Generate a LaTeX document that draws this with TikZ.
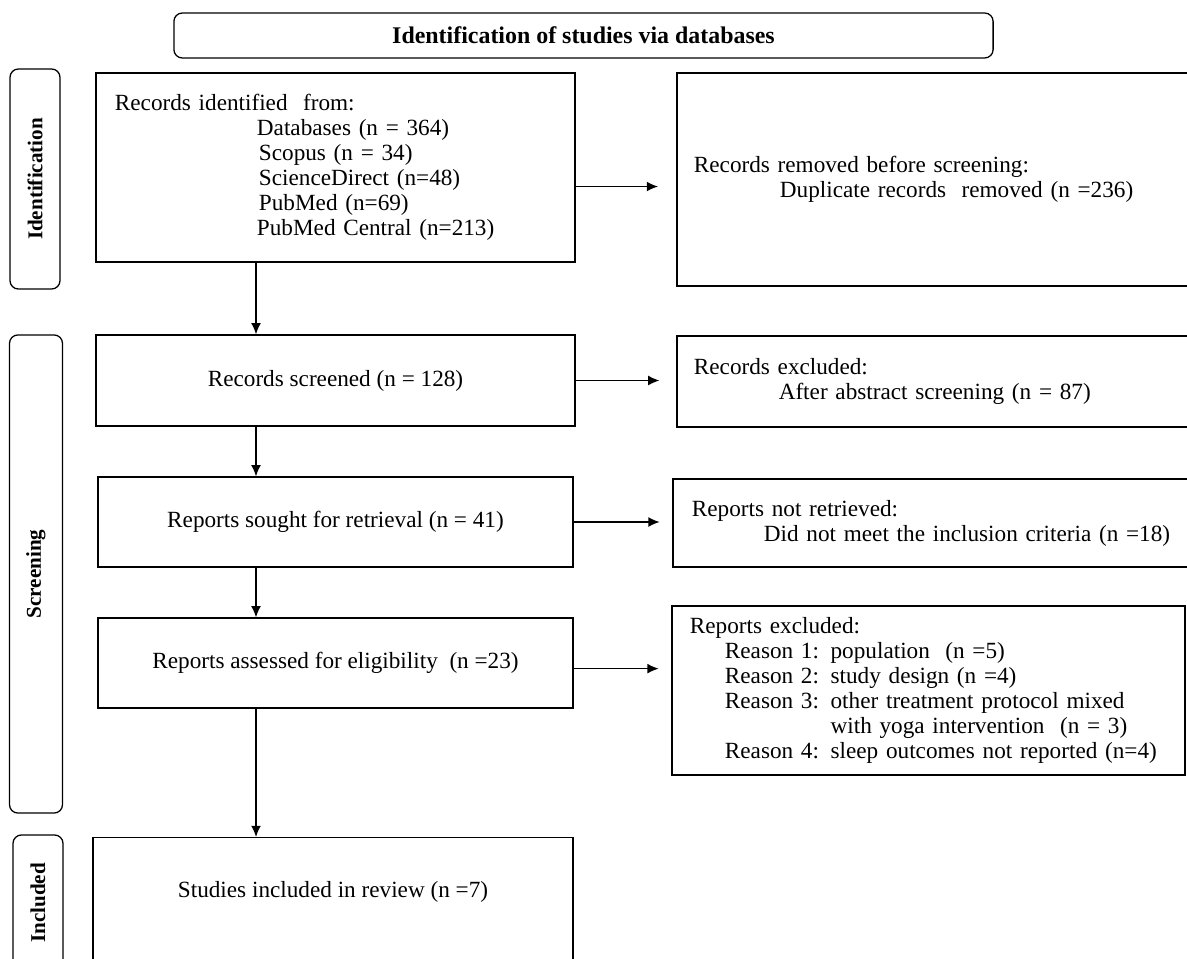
\documentclass[tikz,border=0pt]{standalone}
\usepackage{fontspec}
\setmainfont{Liberation Serif}
\usetikzlibrary{arrows.meta}
\begin{document}
\begin{tikzpicture}[x=0.025cm, y=-0.025cm, flux/.style={->, >={Latex[length=8pt,width=7pt]}, line width=0.9pt}]
        \tikzset{etape/.style={rectangle, draw=black, line width=0.9pt, inner ysep=0pt, font=\fontsize{16.5}{17.8}\selectfont}};
        \tikzset{phase/.style={rectangle, rounded corners=6pt, draw=black, line width=0.9pt, rotate=90, inner sep=0pt, font=\fontsize{15}{18}\selectfont\bfseries}};
        \tikzset{titre/.style={rectangle, rounded corners=6pt, draw=black, line width=0.9pt, inner sep=0pt, font=\fontsize{17}{20}\selectfont\bfseries}};
        \clip (0,0) rectangle (1187,958);

        % en-tete et phases
        \node[titre, minimum width=20.475cm, minimum height=1.125cm] (titre) at (583.5, 35.5) {Identification of studies via databases};
        \node[phase, minimum width=5.5cm, minimum height=1.25cm] (pIdent) at (35, 179) {Identification};
        \node[phase, minimum width=11.95cm, minimum height=1.325cm] (pScreen) at (36, 574) {Screening};
        \node[phase, minimum width=3.4cm, minimum height=1.25cm] (pIncl) at (38, 903) {Included};

        % colonne de gauche
        \node[etape, text width=11.025cm, inner xsep=0.475cm, minimum height=4.725cm, align=left] (ident) at (335.5, 167.5) {Records identified~ from:\\
            \hspace*{3.55cm}Databases (n = 364)\\
            \hspace*{3.6cm}Scopus (n = 34)\\
            \hspace*{3.6cm}ScienceDirect (n=48)\\
            \hspace*{3.6cm}PubMed (n=69)\\
            \hspace*{3.55cm}PubMed Central (n=213)};
        \node[etape, minimum width=11.975cm, minimum height=2.275cm] (screened) at (335.5, 380.5) {Records screened (n = 128)};
        \node[etape, minimum width=11.875cm, minimum height=2.25cm] (sought) at (335.5, 522) {Reports sought for retrieval (n = 41)};
        \node[etape, minimum width=11.875cm, minimum height=2.25cm] (assessed) at (335.5, 663) {Reports assessed for eligibility~ (n =23)};
        \node[etape, anchor=north, minimum width=12cm, text height=1.5cm, text depth=3cm] (included) at (333, 837) {Studies included in review (n =7)};

        % colonne de droite
        \node[etape, text width=12.225cm, inner xsep=0.425cm, minimum height=5.325cm, align=left] (removed) at (938.5, 179.5) {Records removed before screening:\\
            \hspace*{2.15cm}Duplicate records~ removed (n =236)};
        \node[etape, text width=12.225cm, inner xsep=0.425cm, minimum height=2.275cm, align=left] (recexcl) at (938.5, 381.5) {Records excluded:\\
            \hspace*{2.12cm}After abstract screening (n = 87)};
        \node[etape, text width=12.225cm, inner xsep=0.475cm, minimum height=2.2cm, align=left] (notretr) at (936.5, 523) {Reports not retrieved:\\
            \hspace*{1.8cm}Did not meet the inclusion criteria (n =18)};
        \node[etape, text width=11.925cm, inner xsep=0.45cm, minimum height=4.225cm, align=left] (repexcl) at (928.5, 690.5) {Reports excluded:\\
            \hspace*{0.875cm}Reason 1: population~ (n =5)\\
            \hspace*{0.875cm}Reason 2: study design (n =4)\\
            \hspace*{0.875cm}Reason 3: other treatment protocol mixed\\
            \hspace*{0.875cm}\phantom{Reason 3: }with yoga intervention~ (n = 3)\\
            \hspace*{0.875cm}Reason 4: sleep outcomes not reported (n=4)};

        % fleches
        \coordinate (vx) at (256, 0);
        \draw[flux] (ident.south -| vx) -- (screened.north -| vx);
        \draw[flux] (screened.south -| vx) -- (sought.north -| vx);
        \draw[flux] (sought.south -| vx) -- (assessed.north -| vx);
        \draw[flux] (assessed.south -| vx) -- (included.north -| vx);
        \draw[flux, shorten >=13pt] ([yshift=-5pt]ident.east |- removed.west) -- ([yshift=-5pt]removed.west);
        \draw[flux, shorten >=12pt] (screened.east) -- (screened.east -| recexcl.west);
        \draw[flux, shorten >=9pt] (sought.east) -- (sought.east -| notretr.west);
        \draw[flux, shorten >=9pt] ([yshift=-4pt]assessed.east) -- ([yshift=-4pt]assessed.east -| repexcl.west);
\end{tikzpicture}
\end{document}
